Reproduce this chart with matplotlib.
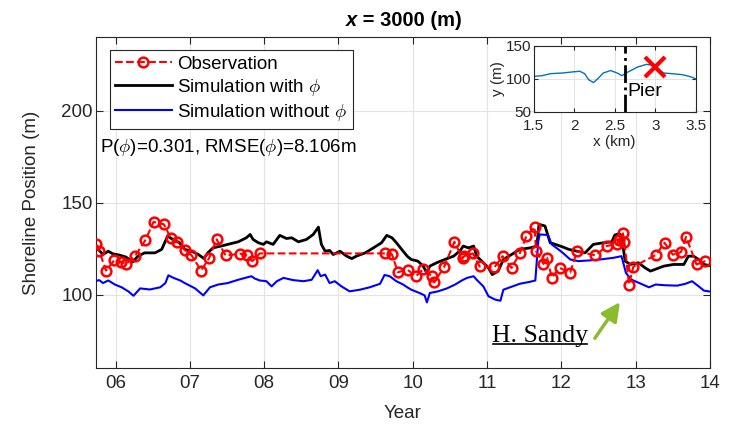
import matplotlib
matplotlib.use("Agg")
import matplotlib.pyplot as plt
from matplotlib.lines import Line2D

plt.rcParams['font.family'] = ['Liberation Sans', 'DejaVu Sans']
plt.rcParams['mathtext.fontset'] = 'cm'

# observations (year since 2000, shoreline position m)
obs_t = [5.74, 5.78, 5.87, 5.98, 6.07, 6.14, 6.26, 6.40, 6.51, 6.65, 6.74, 6.83, 6.94, 7.02,
         7.15, 7.26, 7.36, 7.48, 7.68, 7.77, 7.84, 7.94, 9.63, 9.72, 9.80, 9.93, 10.04, 10.14,
         10.26, 10.29, 10.42, 10.56, 10.67, 10.69, 10.81, 10.90, 11.10, 11.21, 11.33, 11.44,
         11.53, 11.64, 11.66, 11.76, 11.81, 11.87, 11.98, 12.12, 12.21, 12.46, 12.61, 12.75,
         12.77, 12.83, 12.85, 12.91, 12.97, 13.27, 13.39, 13.50, 13.61, 13.68, 13.82, 13.94]
obs_y = [127.5, 123.7, 113.2, 118.7, 117.9, 116.8, 121.0, 129.7, 139.6, 138.3, 131.0, 128.8,
         124.1, 121.6, 113.2, 120.1, 130.1, 121.4, 122.3, 121.4, 118.3, 122.5, 122.5, 122.0,
         112.3, 113.6, 110.1, 113.8, 110.1, 106.8, 115.0, 128.8, 119.8, 121.0, 122.5, 115.4,
         115.0, 121.0, 114.6, 122.5, 131.9, 136.8, 123.7, 116.8, 120.1, 109.4, 114.6, 112.1,
         123.7, 121.4, 126.5, 127.7, 129.7, 133.4, 128.8, 105.6, 115.3, 121.6, 128.3, 121.8,
         123.2, 131.5, 116.5, 118.3]

# simulation with phi
sim_t = [5.72, 5.78, 5.83, 5.90, 5.96, 6.05, 6.14, 6.23, 6.30, 6.39, 6.53, 6.62, 6.67, 6.70,
         6.77, 6.86, 6.93, 7.02, 7.11, 7.19, 7.24, 7.31, 7.42, 7.51, 7.65, 7.76, 7.81, 7.85,
         7.92, 7.99, 8.03, 8.12, 8.21, 8.30, 8.37, 8.46, 8.57, 8.66, 8.73, 8.75, 8.77, 8.82,
         8.88, 8.93, 9.02, 9.11, 9.18, 9.24, 9.36, 9.47, 9.58, 9.65, 9.72, 9.78, 9.87, 9.93,
         9.98, 10.07, 10.14, 10.19, 10.23, 10.32, 10.43, 10.55, 10.64, 10.68, 10.75, 10.82,
         10.86, 10.93, 11.02, 11.07, 11.15, 11.22, 11.33, 11.44, 11.58, 11.67, 11.70, 11.78,
         11.85, 11.92, 12.02, 12.10, 12.21, 12.32, 12.43, 12.57, 12.68, 12.72, 12.78, 12.81,
         12.86, 12.93, 13.04, 13.13, 13.20, 13.26, 13.38, 13.51, 13.65, 13.71, 13.78, 13.85,
         13.92, 14.03]
sim_y = [125.5, 124.1, 121.9, 123.7, 122.3, 121.6, 120.5, 117.9, 121.0, 122.8, 122.8, 124.7,
         129.2, 131.9, 130.1, 128.3, 124.7, 123.7, 122.0, 119.7, 122.8, 125.5, 126.5, 127.4,
         128.8, 131.0, 132.8, 130.1, 128.3, 127.4, 128.8, 127.4, 132.3, 130.6, 131.0, 128.8,
         130.1, 132.8, 136.8, 131.9, 127.4, 123.7, 124.1, 121.9, 123.7, 121.0, 119.7, 121.0,
         122.8, 125.5, 128.3, 132.3, 131.0, 128.3, 123.7, 120.8, 119.2, 118.3, 115.6, 111.9,
         115.6, 117.4, 119.2, 121.0, 124.1, 126.5, 125.5, 126.5, 121.0, 118.3, 114.6, 111.0,
         112.9, 119.2, 121.9, 124.7, 125.5, 126.5, 138.3, 137.4, 128.3, 127.4, 126.0, 124.7,
         123.7, 122.8, 127.4, 128.3, 128.8, 132.5, 133.2, 131.9, 118.3, 116.5, 117.4, 114.6,
         112.9, 113.8, 115.6, 116.5, 116.5, 121.0, 121.0, 119.2, 116.5, 115.6]

# simulation without phi
nop_t = [5.72, 5.78, 5.83, 5.90, 5.99, 6.08, 6.17, 6.24, 6.33, 6.46, 6.60, 6.67, 6.71, 6.78,
         6.87, 6.93, 7.07, 7.18, 7.27, 7.38, 7.51, 7.65, 7.78, 7.83, 7.87, 7.94, 8.03, 8.10,
         8.17, 8.26, 8.39, 8.53, 8.64, 8.72, 8.76, 8.82, 8.88, 8.95, 9.04, 9.15, 9.29, 9.42,
         9.56, 9.62, 9.69, 9.78, 9.87, 9.93, 9.98, 10.09, 10.16, 10.19, 10.23, 10.34, 10.46,
         10.57, 10.66, 10.73, 10.82, 10.86, 10.95, 11.02, 11.11, 11.18, 11.22, 11.31, 11.44,
         11.58, 11.65, 11.69, 11.71, 11.82, 11.87, 11.96, 12.02, 12.12, 12.23, 12.38, 12.52,
         12.70, 12.81, 12.84, 12.87, 12.94, 13.05, 13.18, 13.27, 13.40, 13.56, 13.67, 13.76,
         13.85, 13.92, 14.03]
nop_y = [107.4, 108.0, 106.4, 107.8, 105.6, 104.1, 101.9, 99.5, 103.5, 102.9, 104.1, 106.4,
         110.6, 109.2, 107.8, 106.4, 103.5, 99.7, 104.1, 105.6, 106.4, 108.2, 109.6, 110.1,
         108.9, 107.8, 107.4, 104.6, 107.4, 109.2, 108.0, 107.4, 108.2, 113.4, 110.1, 111.0,
         106.4, 107.4, 104.6, 101.9, 102.8, 104.1, 106.0, 110.8, 110.1, 107.4, 105.6, 104.0,
         102.8, 101.0, 99.7, 95.9, 101.0, 101.9, 103.5, 105.6, 107.8, 109.2, 110.1, 108.2,
         104.6, 99.2, 97.4, 96.8, 102.8, 104.1, 106.0, 107.1, 107.8, 129.2, 132.8, 132.5,
         127.4, 124.7, 122.8, 119.2, 118.3, 118.7, 119.2, 120.1, 121.0, 116.5, 111.9, 108.3,
         106.4, 104.1, 105.6, 105.2, 105.0, 106.0, 107.4, 104.6, 102.3, 101.6]

year_ticks = [6, 7, 8, 9, 10, 11, 12, 13, 14]
year_labels = ['06', '07', '08', '09', '10', '11', '12', '13', '14']

# inset: shoreline along x
sh_x = [1.5, 1.605, 1.71, 1.86, 1.98, 2.07, 2.13, 2.18, 2.24, 2.30, 2.36, 2.45, 2.53, 2.59,
        2.64, 2.70, 2.78, 2.89, 2.99, 3.10, 3.20, 3.33, 3.42, 3.5]
sh_y = [103.4, 104.4, 107.5, 108.5, 110.1, 111.1, 107.5, 98.2, 94.0, 100.8, 108.5, 112.2,
        108.5, 104.4, 108.5, 112.2, 117.4, 121.5, 120.0, 108.5, 107.5, 106.0, 103.4, 99.7]
pier_x = 2.63
site = (3.0, 118)

tick_c = '#262626'
grid_c = '#e3e3e3'

fig = plt.figure(figsize=(7.41, 4.26), dpi=100)
ax = fig.add_axes([0.129, 0.135, 0.829, 0.778])

ax.plot(obs_t, obs_y, '--o', color='red', lw=1.5, ms=7, mfc='none', mew=1.8,
        label='Observation', zorder=4)
ax.plot(sim_t, sim_y, '-', color='black', lw=2, label=r'Simulation with $\phi$', zorder=3)
ax.plot(nop_t, nop_y, '-', color='blue', lw=1.5, label=r'Simulation without $\phi$', zorder=3)

ax.set_xlim(5.73, 14)
ax.set_ylim(60, 240)
ax.set_xticks(year_ticks)
ax.set_xticklabels(year_labels)
ax.set_yticks([100, 150, 200])
ax.tick_params(direction='in', top=True, right=True, labelsize=13.5, colors=tick_c, length=5)
ax.tick_params(axis='x', pad=5)
ax.tick_params(axis='y', pad=2)
for s in ax.spines.values():
    s.set_color(tick_c)
ax.grid(True, color=grid_c, lw=0.8)
ax.set_axisbelow(True)
ax.set_xlabel('Year', fontsize=13.5, color=tick_c, labelpad=9)
ax.set_ylabel('Shoreline Position (m)', fontsize=13.5, color=tick_c, labelpad=15)

t1 = ax.text(0.407, 1.02, 'x', transform=ax.transAxes, fontsize=14.5, fontweight='bold',
             fontstyle='italic', ha='left', va='bottom')
ax.annotate(' = 3000 (m)', xy=(1, 0), xycoords=t1, fontsize=14.5, fontweight='bold',
            ha='left', va='bottom')

leg = ax.legend(loc='upper left', bbox_to_anchor=(0.023, 0.961), borderaxespad=0,
                fancybox=False, framealpha=1, edgecolor=tick_c, fontsize=13.5,
                handlelength=3.0, borderpad=0.3, labelspacing=0.22, handletextpad=0.28)
leg.get_frame().set_linewidth(0.8)

ax.text(0.007, 0.668, r'P($\phi$)=0.301, RMSE($\phi$)=8.106m', transform=ax.transAxes,
        fontsize=13.5, va='center', ha='left')

ax.annotate('', xy=(12.81, 97.3), xytext=(12.43, 75.2),
            arrowprops=dict(arrowstyle='-|>', color='#8cbb2e', lw=2.5, mutation_scale=28))
hs = ax.text(11.07, 74.6, 'H. Sandy', fontsize=18.5, family='Liberation Serif',
             ha='left', va='baseline')

# inset
ins = fig.add_axes([0.72, 0.738, 0.219, 0.155])
ins.plot(sh_x, sh_y, color='#0072BD', lw=1)
ins.axvline(pier_x, color='black', ls='-.', lw=2)
ins.plot(site[0], site[1], 'x', color='red', ms=15, mew=3)
ins.text(pier_x + 0.03, 80, 'Pier', fontsize=14, va='center', ha='left')
ins.set_xlim(1.5, 3.5)
ins.set_ylim(50, 150)
ins.set_xticks([1.5, 2, 2.5, 3, 3.5])
ins.set_xticklabels(['1.5', '2', '2.5', '3', '3.5'])
ins.set_yticks([50, 100, 150])
ins.tick_params(direction='in', top=True, right=True, labelsize=11, colors=tick_c,
                length=3)
ins.tick_params(axis='x', pad=5)
ins.tick_params(axis='y', pad=1.5)
for s in ins.spines.values():
    s.set_color(tick_c)
ins.grid(True, color=grid_c, lw=0.7)
ins.set_axisbelow(True)
ins.set_xlabel('x (km)', fontsize=11, color=tick_c, labelpad=2)
ins.set_ylabel('y (m)', fontsize=11, color=tick_c, labelpad=1)

# underline for H. Sandy, just below the baseline
fig.canvas.draw()
bb = hs.get_window_extent()
base = ax.transData.transform((11.07, 74.6))[1]
inv = fig.transFigure.inverted()
x0, y0 = inv.transform((bb.x0 + 1, base - 2))
x1, _ = inv.transform((bb.x1 - 1, base - 2))
fig.add_artist(Line2D([x0, x1], [y0, y0], color='black', lw=1.2, transform=fig.transFigure))

fig.savefig('out.png', dpi=100, facecolor='white')
